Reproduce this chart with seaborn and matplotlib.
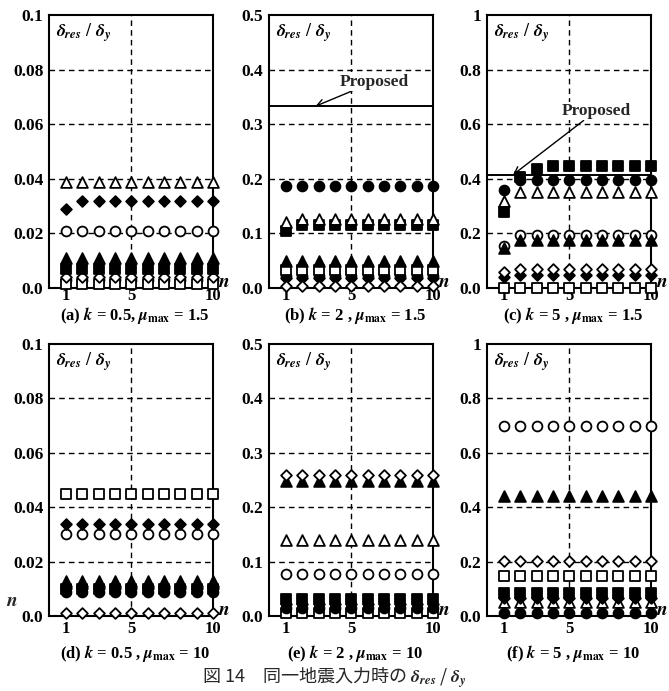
import matplotlib
matplotlib.use("Agg")
import matplotlib.pyplot as plt
import seaborn as sns
import pandas as pd

sns.set_theme(style="white")
plt.rcParams['font.family'] = ['Liberation Serif', 'DejaVu Serif']
plt.rcParams['font.weight'] = 'bold'
plt.rcParams['mathtext.fontset'] = 'stix'

n = [1, 2, 3, 4, 5, 6, 7, 8, 9, 10]

# ---- panel values (delta_res / delta_y) ----
# (a) k=0.5, mu_max=1.5
a_open_tri   = [0.039, 0.039, 0.039, 0.039, 0.039, 0.039, 0.039, 0.039, 0.039, 0.039]
a_fill_dia   = [0.029, 0.032, 0.032, 0.032, 0.032, 0.032, 0.032, 0.032, 0.032, 0.032]
a_open_cir   = [0.021, 0.021, 0.021, 0.021, 0.021, 0.021, 0.021, 0.021, 0.021, 0.021]
a_fill_tri   = [0.011, 0.011, 0.011, 0.011, 0.011, 0.011, 0.011, 0.011, 0.011, 0.011]
a_fill_sq    = [0.007, 0.007, 0.007, 0.007, 0.007, 0.007, 0.007, 0.007, 0.007, 0.007]
a_fill_cir   = [0.003, 0.003, 0.003, 0.003, 0.003, 0.003, 0.003, 0.003, 0.003, 0.003]
a_open_dia   = [0.004, 0.004, 0.004, 0.004, 0.004, 0.004, 0.004, 0.004, 0.004, 0.004]
a_open_sq    = [0.0015, 0.0015, 0.0015, 0.0015, 0.0015, 0.0015, 0.0015, 0.0015, 0.0015, 0.0015]

# (b) k=2, mu_max=1.5
b_fill_cir   = [0.186, 0.186, 0.186, 0.186, 0.186, 0.186, 0.186, 0.186, 0.186, 0.186]
b_open_tri   = [0.120, 0.126, 0.126, 0.126, 0.126, 0.126, 0.126, 0.126, 0.126, 0.126]
b_fill_sq    = [0.104, 0.115, 0.115, 0.115, 0.115, 0.115, 0.115, 0.115, 0.115, 0.115]
b_fill_tri   = [0.050, 0.050, 0.050, 0.050, 0.050, 0.050, 0.050, 0.050, 0.050, 0.050]
b_open_sq    = [0.033, 0.033, 0.033, 0.033, 0.033, 0.033, 0.033, 0.033, 0.033, 0.033]
b_open_cir   = [0.022, 0.022, 0.022, 0.022, 0.022, 0.022, 0.022, 0.022, 0.022, 0.022]
b_fill_dia   = [0.018, 0.018, 0.018, 0.018, 0.018, 0.018, 0.018, 0.018, 0.018, 0.018]
b_open_dia   = [0.004, 0.004, 0.004, 0.004, 0.004, 0.004, 0.004, 0.004, 0.004, 0.004]
b_proposed   = 0.333

# (c) k=5, mu_max=1.5
c_fill_sq    = [0.280, 0.405, 0.435, 0.446, 0.446, 0.446, 0.446, 0.446, 0.446, 0.446]
c_fill_cir   = [0.360, 0.395, 0.395, 0.395, 0.395, 0.395, 0.395, 0.395, 0.395, 0.395]
c_open_tri   = [0.317, 0.350, 0.350, 0.350, 0.350, 0.350, 0.350, 0.350, 0.350, 0.350]
c_open_cir   = [0.155, 0.195, 0.195, 0.195, 0.195, 0.195, 0.195, 0.195, 0.195, 0.195]
c_fill_tri   = [0.145, 0.177, 0.177, 0.177, 0.177, 0.177, 0.177, 0.177, 0.177, 0.177]
c_open_dia   = [0.058, 0.068, 0.068, 0.068, 0.068, 0.068, 0.068, 0.068, 0.068, 0.068]
c_fill_dia   = [0.040, 0.046, 0.046, 0.046, 0.046, 0.046, 0.046, 0.046, 0.046, 0.046]
c_open_sq    = [0.0, 0.0, 0.0, 0.0, 0.0, 0.0, 0.0, 0.0, 0.0, 0.0]
c_proposed   = 0.415

# (d) k=0.5, mu_max=10
d_open_sq    = [0.045, 0.045, 0.045, 0.045, 0.045, 0.045, 0.045, 0.045, 0.045, 0.045]
d_fill_dia   = [0.034, 0.034, 0.034, 0.034, 0.034, 0.034, 0.034, 0.034, 0.034, 0.034]
d_open_cir   = [0.030, 0.030, 0.030, 0.030, 0.030, 0.030, 0.030, 0.030, 0.030, 0.030]
d_open_tri   = [0.012, 0.012, 0.012, 0.012, 0.012, 0.012, 0.012, 0.012, 0.012, 0.012]
d_fill_tri   = [0.013, 0.013, 0.013, 0.013, 0.013, 0.013, 0.013, 0.013, 0.013, 0.013]
d_fill_sq    = [0.010, 0.010, 0.010, 0.010, 0.010, 0.010, 0.010, 0.010, 0.010, 0.010]
d_fill_cir   = [0.009, 0.009, 0.009, 0.009, 0.009, 0.009, 0.009, 0.009, 0.009, 0.009]
d_open_dia   = [0.001, 0.001, 0.001, 0.001, 0.001, 0.001, 0.001, 0.001, 0.001, 0.001]

# (e) k=2, mu_max=10
e_open_dia   = [0.259, 0.259, 0.259, 0.259, 0.259, 0.259, 0.259, 0.259, 0.259, 0.259]
e_fill_tri   = [0.248, 0.248, 0.248, 0.248, 0.248, 0.248, 0.248, 0.248, 0.248, 0.248]
e_open_tri   = [0.139, 0.139, 0.139, 0.139, 0.139, 0.139, 0.139, 0.139, 0.139, 0.139]
e_open_cir   = [0.078, 0.078, 0.078, 0.078, 0.078, 0.078, 0.078, 0.078, 0.078, 0.078]
e_fill_sq    = [0.032, 0.032, 0.032, 0.032, 0.032, 0.032, 0.032, 0.032, 0.032, 0.032]
e_fill_dia   = [0.022, 0.022, 0.022, 0.022, 0.022, 0.022, 0.022, 0.022, 0.022, 0.022]
e_fill_cir   = [0.014, 0.014, 0.014, 0.014, 0.014, 0.014, 0.014, 0.014, 0.014, 0.014]
e_open_sq    = [0.005, 0.005, 0.005, 0.005, 0.005, 0.005, 0.005, 0.005, 0.005, 0.005]

# (f) k=5, mu_max=10
f_open_cir   = [0.700, 0.700, 0.700, 0.700, 0.700, 0.700, 0.700, 0.700, 0.700, 0.700]
f_fill_tri   = [0.440, 0.440, 0.440, 0.440, 0.440, 0.440, 0.440, 0.440, 0.440, 0.440]
f_open_dia   = [0.203, 0.203, 0.203, 0.203, 0.203, 0.203, 0.203, 0.203, 0.203, 0.203]
f_open_sq    = [0.148, 0.148, 0.148, 0.148, 0.148, 0.148, 0.148, 0.148, 0.148, 0.148]
f_fill_sq    = [0.086, 0.086, 0.086, 0.086, 0.086, 0.086, 0.086, 0.086, 0.086, 0.086]
f_fill_dia   = [0.066, 0.066, 0.066, 0.066, 0.066, 0.066, 0.066, 0.066, 0.066, 0.066]
f_open_tri   = [0.052, 0.052, 0.052, 0.052, 0.052, 0.052, 0.052, 0.052, 0.052, 0.052]
f_fill_cir   = [0.011, 0.011, 0.011, 0.011, 0.011, 0.011, 0.011, 0.011, 0.011, 0.011]

# ---- tick labels / captions ----
yt_small = [0.0, 0.02, 0.04, 0.06, 0.08, 0.1]
yl_small = ["0.0", "0.02", "0.04", "0.06", "0.08", "0.1"]
yt_mid = [0.0, 0.1, 0.2, 0.3, 0.4, 0.5]
yl_mid = ["0.0", "0.1", "0.2", "0.3", "0.4", "0.5"]
yt_big = [0.0, 0.2, 0.4, 0.6, 0.8, 1.0]
yl_big = ["0.0", "0.2", "0.4", "0.6", "0.8", "1"]
xt = [1, 5, 10]
xl = ["1", "5", "10"]

captions = [
    r"(a) $\boldsymbol{k}$ = 0.5, $\mu_{\rm max}$ = 1.5",
    r"(b) $\boldsymbol{k}$ = 2 , $\mu_{\rm max}$ = 1.5",
    r"(c) $\boldsymbol{k}$ = 5 , $\mu_{\rm max}$ = 1.5",
    r"(d) $\boldsymbol{k}$ = 0.5 , $\mu_{\rm max}$ = 10",
    r"(e) $\boldsymbol{k}$ = 2 , $\mu_{\rm max}$ = 10",
    r"(f) $\boldsymbol{k}$ = 5 , $\mu_{\rm max}$ = 10",
]
title = "図 14　同一地震入力時の "

# marker styles: key -> (marker, filled, size)
STY = {
    "open_sq":  ("s", False, 42),
    "fill_sq":  ("s", True, 42),
    "open_tri": ("^", False, 60),
    "fill_tri": ("^", True, 60),
    "open_cir": ("o", False, 50),
    "fill_cir": ("o", True, 50),
    "open_dia": ("D", False, 30),
    "fill_dia": ("D", True, 30),
}

panels = [
    dict(ylim=0.1, yt=yt_small, yl=yl_small, series=[
        ("fill_cir", a_fill_cir), ("open_sq", a_open_sq), ("open_dia", a_open_dia),
        ("fill_sq", a_fill_sq), ("fill_tri", a_fill_tri), ("open_cir", a_open_cir),
        ("fill_dia", a_fill_dia), ("open_tri", a_open_tri)], prop=None),
    dict(ylim=0.5, yt=yt_mid, yl=yl_mid, series=[
        ("open_cir", b_open_cir), ("fill_dia", b_fill_dia), ("open_dia", b_open_dia),
        ("open_sq", b_open_sq), ("fill_tri", b_fill_tri), ("fill_sq", b_fill_sq),
        ("open_tri", b_open_tri), ("fill_cir", b_fill_cir)], prop=b_proposed),
    dict(ylim=1.0, yt=yt_big, yl=yl_big, series=[
        ("open_sq", c_open_sq), ("fill_dia", c_fill_dia), ("open_dia", c_open_dia),
        ("open_cir", c_open_cir), ("fill_tri", c_fill_tri), ("fill_sq", c_fill_sq),
        ("open_tri", c_open_tri), ("fill_cir", c_fill_cir)], prop=c_proposed),
    dict(ylim=0.1, yt=yt_small, yl=yl_small, series=[
        ("open_tri", d_open_tri), ("fill_cir", d_fill_cir), ("fill_sq", d_fill_sq),
        ("fill_tri", d_fill_tri), ("open_dia", d_open_dia), ("open_cir", d_open_cir),
        ("fill_dia", d_fill_dia), ("open_sq", d_open_sq)], prop=None),
    dict(ylim=0.5, yt=yt_mid, yl=yl_mid, series=[
        ("open_sq", e_open_sq), ("fill_cir", e_fill_cir), ("fill_dia", e_fill_dia),
        ("fill_sq", e_fill_sq), ("open_cir", e_open_cir), ("open_tri", e_open_tri),
        ("fill_tri", e_fill_tri), ("open_dia", e_open_dia)], prop=None),
    dict(ylim=1.0, yt=yt_big, yl=yl_big, series=[
        ("open_tri", f_open_tri), ("fill_dia", f_fill_dia), ("fill_sq", f_fill_sq),
        ("fill_cir", f_fill_cir), ("open_sq", f_open_sq), ("open_dia", f_open_dia),
        ("fill_tri", f_fill_tri), ("open_cir", f_open_cir)], prop=None),
]

W, H = 669, 691
fig = plt.figure(figsize=(W / 100, H / 100), dpi=100)
fig.patch.set_facecolor("white")

lefts = [49, 269, 487]
rows = [(15, 288), (344, 616)]
cap_y = [316, 653]
xpad = [0.0, 3.5]
axw = 164

dash = (0, (4, 3))
for i, p in enumerate(panels):
    r, c = divmod(i, 3)
    top, bot = rows[r]
    ax = fig.add_axes([lefts[c] / W, 1 - bot / H, axw / W, (bot - top) / H])
    ax.set_facecolor("white")
    ax.set_xlim(-0.05, 10)
    ax.set_ylim(0, p["ylim"])
    for y in p["yt"][1:-1]:
        ax.axhline(y, color="black", lw=1.0, ls=dash, zorder=1)
    ax.axvline(5, color="black", lw=1.0, ls=dash, zorder=1)
    if p["prop"] is not None:
        ax.axhline(p["prop"], color="black", lw=1.4, zorder=1.5)
    for zi, (key, vals) in enumerate(p["series"]):
        m, filled, s = STY[key]
        df = pd.DataFrame({"n": n, "v": vals})
        sns.scatterplot(data=df, x="n", y="v", ax=ax, marker=m, s=s,
                        color="black",
                        facecolor="black" if filled else "white",
                        edgecolor="black", linewidth=1.3,
                        clip_on=False, zorder=3 + zi, legend=False)
    ax.set_xlabel("")
    ax.set_ylabel("")
    ax.set_xticks(xt)
    ax.set_xticklabels(xl)
    ax.set_yticks(p["yt"])
    ax.set_yticklabels(p["yl"])
    ax.tick_params(axis="both", length=0, labelsize=12.5, colors="black")
    ax.tick_params(axis="x", pad=xpad[r], labelsize=12)
    ax.tick_params(axis="y", pad=4)
    for sp in ax.spines.values():
        sp.set_visible(True)
        sp.set_color("black")
        sp.set_linewidth(1.5)
        sp.set_zorder(2)
    ax.text(0.04, 0.935, r"$\delta_{res}$ / $\delta_y$", transform=ax.transAxes,
            fontsize=13, ha="left", va="center", color="black")
    ax.text(1.065, 0.02, r"$n$", transform=ax.transAxes, fontsize=14,
            ha="center", va="center", color="black")
    fig.text((lefts[c] + axw / 2 + 4) / W, 1 - cap_y[r] / H, captions[i],
             fontsize=12, ha="center", va="center", color="black")
    if p["prop"] is not None:
        box = dict(fc="white", ec="none", pad=1.0)
        if i == 1:
            ax.annotate("Proposed", xy=(2.8, p["prop"]), xytext=(4.3, 0.378),
                        fontsize=12.5, ha="left", va="center", bbox=box, zorder=2.5,
                        arrowprops=dict(arrowstyle="->", color="black", lw=1.0,
                                        shrinkA=0, shrinkB=0))
        else:
            ax.annotate("Proposed", xy=(1.55, p["prop"]), xytext=(4.5, 0.648),
                        fontsize=12.5, ha="left", va="center", bbox=box, zorder=2.5,
                        arrowprops=dict(arrowstyle="->", color="black", lw=1.0,
                                        shrinkA=0, shrinkB=0))

# stray n at lower-left
fig.text(12 / W, 1 - 602 / H, r"$n$", fontsize=14, ha="center", va="center")

fig.text(0.5, 1 - 678 / H, title + r"$\delta_{res}$ / $\delta_y$", fontsize=13,
         ha="center", va="center", weight="normal",
         family=["Noto Sans CJK JP", "DejaVu Sans"])

fig.savefig("out.png", dpi=100, facecolor="white")
